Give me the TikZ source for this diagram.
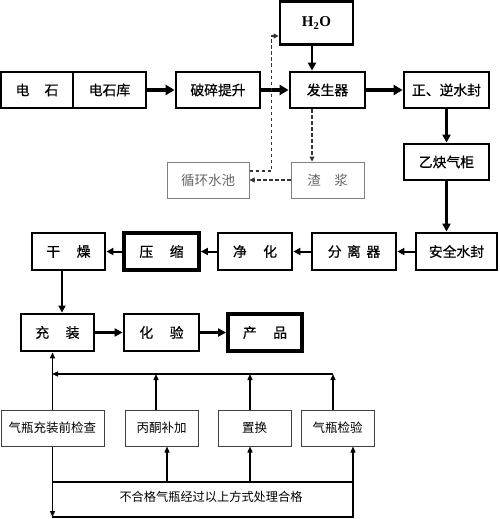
\documentclass[tikz,border=0pt]{standalone}
\usepackage{fontspec}
\setmainfont{Noto Sans CJK SC}
\newfontfamily\heavycjk[FakeBold=0.7]{Noto Sans CJK SC}
\newfontfamily\tnr{Liberation Serif}
\usetikzlibrary{arrows.meta,calc}
\begin{document}
\begin{tikzpicture}[x=1pt,y=-1pt,
  box/.style={draw=black,line width=2.8pt,inner sep=0pt,minimum height=36pt,font=\heavycjk\fontsize{13.8}{14}\selectfont},
  heavybox/.style={box,line width=3.8pt},
  thinbox/.style={draw=black!75,line width=1pt,inner sep=0pt,minimum height=36pt,font=\fontsize{12.5}{13}\selectfont},
  graybox/.style={draw=black!50,line width=1pt,inner sep=0pt,minimum height=36pt,text=black!60,font=\fontsize{13.5}{14}\selectfont},
  bigarrow/.style={line width=3.5pt,-{Triangle[length=9pt,width=10pt]}},
  midarrow/.style={line width=2.6pt,-{Triangle[length=8pt,width=8pt]}},
  smallarrow/.style={line width=2pt,-{Triangle[length=7pt,width=7pt]}},
  thinline/.style={line width=1.3pt},
  thinarrow/.style={line width=1.3pt,-{Triangle[length=6pt,width=5pt]}},
  dasharrow/.style={line width=1.1pt,draw=black!80,dash pattern=on 3.5pt off 2.5pt,-{Triangle[length=5pt,width=5pt]}}
]
\useasboundingbox (0,0) rectangle (500,519);
% top row
\node[box,minimum width=72pt] (ds) at (37,90) {电\hspace{1.1em}石};
\node[box,minimum width=73pt] (dsk) at (109.5,90) {电石库};
\node[box,minimum width=84pt] (psts) at (218,90) {破碎提升};
\node[box,minimum width=75pt] (fsq) at (327.5,90) {发生器};
\node[box,minimum width=73pt,minimum height=43pt] (h2o) at (316.5,23) {\tnr\bfseries\fontsize{15}{16}\selectfont H\textsubscript{2}O};
\node[box,minimum width=85pt] (zn) at (446.5,90) {正、逆水封};
\node[box,minimum width=85pt] (yq) at (446.5,162) {乙炔气柜};
\node[graybox,minimum width=73pt] (xs) at (327.5,180) {渣\hspace{1em}浆};
\node[graybox,minimum width=82pt] (xh) at (208,180) {循环水池};
% second row
\node[box,minimum width=81pt,minimum height=37pt] (aq) at (456.5,251.5) {安全水封};
\node[box,minimum width=84pt,minimum height=37pt] (flq) at (354,251.5) {分\hspace{0.4em}离\hspace{0.4em}器};
\node[box,minimum width=74pt,minimum height=37pt] (jh) at (255,251.5) {净\hspace{1.2em}化};
\node[heavybox,minimum width=75pt,minimum height=37pt] (ys) at (161.5,251.5) {压\hspace{1.2em}缩};
\node[box,minimum width=73pt,minimum height=37pt] (gz) at (68.5,251.5) {干\hspace{1.2em}燥};
% third row
\node[box,minimum width=73pt,minimum height=37pt] (cz) at (57.5,332.5) {充\hspace{1.2em}装};
\node[box,minimum width=75pt,minimum height=37pt] (hy) at (161.5,332.5) {化\hspace{1.2em}验};
\node[heavybox,minimum width=74pt,minimum height=37pt] (cp) at (265,332.5) {产\hspace{1.2em}品};
% bottom boxes
\node[thinbox,minimum width=103pt] (jc) at (52.5,428) {气瓶充装前检查};
\node[thinbox,minimum width=73pt] (bt) at (161.5,428) {丙酮补加};
\node[thinbox,minimum width=73pt] (zh) at (254.5,428) {置换};
\node[thinbox,minimum width=73pt] (jy) at (337.5,428) {气瓶检验};
\node[font=\fontsize{12.2}{13}\selectfont] (note) at (211,497) {不合格气瓶经过以上方式处理合格};
% top row connectors
\draw[bigarrow] (dsk.east) -- (psts.west);
\draw[bigarrow] (psts.east) -- (fsq.west);
\draw[bigarrow] (fsq.east) -- (zn.west);
\coordinate (hs) at ($(h2o.south)+(-4.5,0)$);
\draw[midarrow] (hs) -- (hs |- fsq.north);
\draw[midarrow] (zn.south) -- (yq.north);
\draw[midarrow] (yq.south) -- (yq.south |- aq.north);
% dashed
\coordinate (fs) at ($(fsq.south)+(-15.5,0)$);
\draw[dasharrow] (fs) -- (fs |- xs.north);
\draw[dasharrow] (xs.west) -- (xh.east);
\coordinate (d0) at ($(xh.east)+(0,-9)$);
\coordinate (d1) at ($(xh.east)+(22,-9)$);
\coordinate (d2) at ($(h2o.west)+(0,13)$);
\draw[dasharrow] (d0) -- (d1) -- (d1 |- d2) -- (d2);
% second row connectors
\draw[smallarrow] (aq.west) -- (flq.east);
\draw[smallarrow] (flq.west) -- (jh.east);
\draw[smallarrow] (jh.west) -- (ys.east);
\draw[smallarrow] (ys.west) -- (gz.east);
\coordinate (g1) at ($(gz.south)+(-6.5,0)$);
\draw[smallarrow] (g1) -- (g1 |- cz.north);
% third row connectors
\draw[midarrow] (cz.east) -- (hy.west);
\draw[midarrow] (hy.east) -- (cp.west);
% bottom network
\coordinate (L) at (52,374);
\coordinate (R) at (333,374);
\draw[thinarrow] (jc.north) -- (jc.north |- cz.south);
\draw[thinarrow] (R) -- (L);
\coordinate (bn) at ($(bt.north)+(-5.5,0)$);
\coordinate (zn2) at ($(zh.north)+(-4.5,0)$);
\coordinate (jn) at ($(jy.north)+(-4.5,0)$);
\draw[thinarrow] (bn) -- (bn |- L);
\draw[thinarrow] (zn2) -- (zn2 |- L);
\draw[thinarrow] (jn) -- (jn |- R);
\coordinate (B1) at (52,482);
\coordinate (B2) at (353,482);
\coordinate (C1) at (52,517);
\coordinate (C2) at (353,517);
\draw[thinarrow] (jc.south) -- (jc.south |- C1);
\draw[thinline] (C1) -- (C2) -- (B2);
\draw[thinline] (B1) -- (B2);
\draw[thinarrow] (C2) -- (C2 |- jy.south);
\coordinate (bs) at ($(bt.south)+(5.5,0)$);
\coordinate (zs) at ($(zh.south)+(-4.5,0)$);
\draw[thinarrow] (bs |- B1) -- (bs);
\draw[thinarrow] (zs |- B1) -- (zs);
\end{tikzpicture}
\end{document}
